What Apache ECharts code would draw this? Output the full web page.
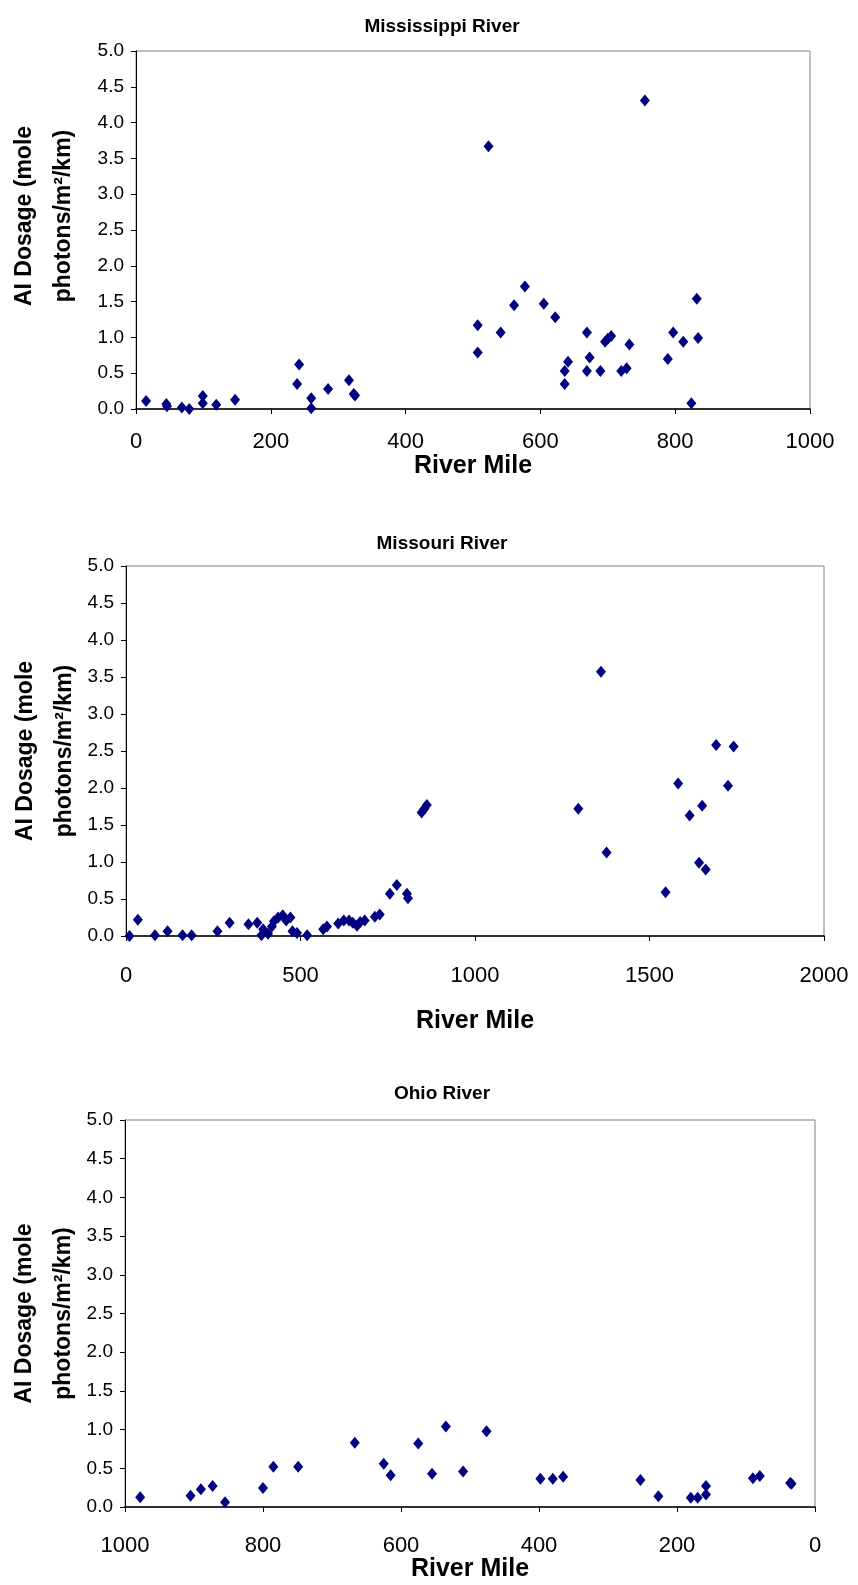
<!DOCTYPE html>
<html>
<head>
<meta charset="utf-8">
<script src="https://cdn.jsdelivr.net/npm/echarts@6/dist/echarts.min.js"></script>
<style>
  body { margin: 0; background: #fff; }
  #main { width: 858px; height: 1585px; }
</style>
</head>
<body>
<div id="main"></div>
<script>
// Mississippi: river mile / dosage
var missMile = [15, 45, 46, 68, 79, 99, 99, 119, 147, 242, 239, 260, 260, 285, 316, 323, 325,
  507, 507, 523, 541, 561, 577, 605, 622, 636, 641, 636, 669, 673, 669, 689, 696, 700, 705,
  720, 728, 732, 755, 789, 797, 812, 824, 832, 834];
var missDose = [0.11, 0.07, 0.04, 0.02, 0.0, 0.18, 0.08, 0.06, 0.13, 0.62, 0.35, 0.15, 0.01, 0.28, 0.40, 0.21, 0.19,
  1.17, 0.79, 3.67, 1.07, 1.45, 1.71, 1.47, 1.28, 0.53, 0.66, 0.35, 1.07, 0.72, 0.53, 0.53, 0.94, 0.98, 1.02,
  0.53, 0.57, 0.90, 4.31, 0.70, 1.07, 0.94, 0.08, 1.54, 0.99];

// Missouri
var missouriMile = [10, 34, 83, 119, 162, 188, 262, 297, 351, 376, 388, 393, 407, 418, 424, 436, 449, 459, 471,
  477, 490, 519, 565, 576, 608, 624, 639, 650, 662, 671, 684, 713, 727, 756, 776, 805, 808,
  847, 855, 862, 1296, 1361, 1377, 1546, 1582, 1615, 1642, 1651, 1661, 1691, 1725, 1741];
var missouriDose = [0.0, 0.22, 0.01, 0.065, 0.01, 0.01, 0.065, 0.18, 0.16, 0.18, 0.01, 0.09, 0.03, 0.13, 0.20, 0.25, 0.28, 0.21, 0.25,
  0.065, 0.04, 0.01, 0.09, 0.13, 0.17, 0.21, 0.21, 0.18, 0.14, 0.19, 0.21, 0.26, 0.29, 0.57, 0.69, 0.57, 0.51,
  1.67, 1.72, 1.77, 1.72, 3.57, 1.13, 0.59, 2.06, 1.63, 0.99, 1.76, 0.90, 2.58, 2.03, 2.56];

// Ohio
var ohioMile = [978, 905, 890, 873, 855, 800, 785, 749, 667, 625, 615, 575, 555, 535, 510, 476,
  398, 380, 365, 253, 227, 180, 170, 158, 158, 90, 80, 36, 34];
var ohioDose = [0.125, 0.146, 0.23, 0.27, 0.06, 0.245, 0.52, 0.52, 0.83, 0.56, 0.41, 0.82, 0.43, 1.04, 0.46, 0.98,
  0.365, 0.365, 0.39, 0.35, 0.14, 0.12, 0.12, 0.16, 0.27, 0.37, 0.40, 0.31, 0.30];

var titles = ["Mississippi River", "Missouri River", "Ohio River"];
var yName = "AI Dosage (mole\nphotons/m\u00b2/km)";
var xName = "River Mile";

function pairs(xs, ys) {
  return xs.map(function (x, i) { return [x, ys[i]]; });
}

var font = "'Liberation Sans', Arial, sans-serif";
var grids = [
  { left: 136, top: 51, width: 674, height: 358 },
  { left: 126, top: 566, width: 698, height: 370 },
  { left: 125, top: 1120, width: 690, height: 387 }
];
var titleTops = [12, 529, 1079];
var xLabelMargin = [22, 29, 28];
var xNameGap = [45, 73, 50];
var yNameGap = [53, 42, 42];
var yNamePad = [[0, 0, 0, 28], 0, 0];
var xMax = [1000, 2000, 1000];
var xInterval = [200, 500, 200];

var option = {
  backgroundColor: "#fff",
  animation: false,
  title: titles.map(function (t, i) {
    return {
      text: t, left: 437, top: titleTops[i], textAlign: "center",
      textStyle: { fontFamily: font, fontSize: 19, fontWeight: "bold", color: "#000" }
    };
  }),
  grid: grids.map(function (g) {
    return Object.assign({ show: true, borderColor: "#808080", borderWidth: 1,
      backgroundColor: "#fff", containLabel: false, outerBoundsMode: "none" }, g);
  }),
  xAxis: [0, 1, 2].map(function (i) {
    return {
      gridIndex: i, type: "value", min: 0, max: xMax[i], interval: xInterval[i],
      inverse: i === 2,
      name: xName, nameLocation: "middle", nameGap: xNameGap[i], nameMoveOverlap: false,
      nameTextStyle: { fontFamily: font, fontSize: 25, fontWeight: "bold", color: "#000" },
      axisLine: { onZero: false, lineStyle: { color: "#000", width: 1.5 } },
      axisTick: { length: 5, lineStyle: { color: "#000" } },
      axisLabel: { margin: xLabelMargin[i], fontFamily: font, fontSize: 22, color: "#000",
        formatter: function (v) { return String(v); } },
      splitLine: { show: false }
    };
  }),
  yAxis: [0, 1, 2].map(function (i) {
    return {
      gridIndex: i, type: "value", min: 0, max: 5, interval: 0.5,
      name: yName, nameLocation: "middle", nameRotate: 90, nameGap: yNameGap[i],
      nameMoveOverlap: false,
      nameTextStyle: { fontFamily: font, fontSize: 23, fontWeight: "bold", color: "#000",
        lineHeight: 39, padding: yNamePad[i] },
      axisLine: { onZero: false, lineStyle: { color: "#000", width: 1 } },
      axisTick: { length: 5, lineStyle: { color: "#000" } },
      axisLabel: { margin: 12, fontFamily: font, fontSize: 19, color: "#000",
        formatter: function (v) { return v.toFixed(1); } },
      splitLine: { show: false }
    };
  }),
  series: [
    pairs(missMile, missDose),
    pairs(missouriMile, missouriDose),
    pairs(ohioMile, ohioDose)
  ].map(function (d, i) {
    return {
      type: "scatter", xAxisIndex: i, yAxisIndex: i, data: d,
      symbol: "diamond", symbolSize: [10, 12],
      itemStyle: { color: "#000080", opacity: 1 }
    };
  })
};

var chart = echarts.init(document.getElementById("main"));
chart.setOption(option);
</script>
</body>
</html>
